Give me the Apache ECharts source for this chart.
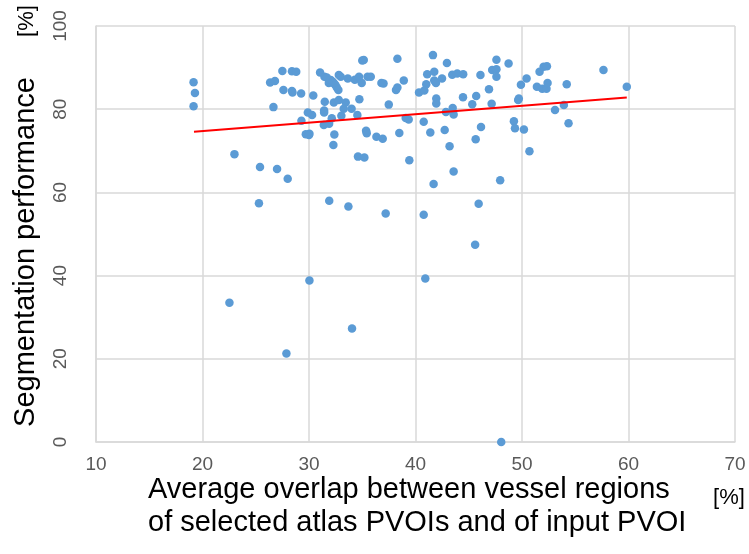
<!DOCTYPE html>
<html>
<head>
<meta charset="utf-8">
<script src="https://cdn.jsdelivr.net/npm/echarts@6/dist/echarts.min.js"></script>
<style>html,body{margin:0;padding:0;background:#fff;}#c{width:749px;height:554px;}</style>
</head>
<body>
<div id="c"></div>
<script>
// Average overlap [%]
const overlapX = [19.16,19.29,19.16,23.0,25.4,27.0,28.0,25.3,31.9,33.7,
26.35,26.8,26.66,27.5,28.4,28.8,27.6,28.4,28.45,29.26,
30.4,31.04,31.45,31.67,31.86,32.04,32.23,32.36,32.48,32.61,
32.76,32.8,32.98,33.64,34.3,34.7,35.0,35.14,34.95,35.5,
35.8,36.8,37.0,31.48,32.33,32.8,33.45,33.26,34.0,34.73,
31.42,31.42,33.04,34.54,29.89,30.29,29.29,32.14,31.39,31.89,
29.7,30.04,30.0,32.38,32.29,34.6,35.2,35.36,35.42,36.33,
38.3,38.9,38.17,38.3,37.49,39.08,39.36,36.92,38.48,39.42,
41.64,42.95,41.1,41.76,41.01,41.76,41.92,40.33,40.83,42.49,
43.45,43.92,44.48,46.1,47.6,47.2,47.6,47.6,48.74,41.95,
41.95,44.46,45.7,45.33,46.9,47.15,42.86,43.49,43.58,40.77,
41.39,42.74,46.15,45.65,43.2,43.58,41.7,47.95,45.93,49.9,
50.43,51.4,51.65,52.03,52.34,51.9,52.3,52.4,54.2,49.64,
49.7,53.1,53.93,54.37,49.24,49.34,50.18,50.7,57.65,59.84,
30.04,22.53,34.04,27.88,37.2,40.77,45.6,40.92,48.05];
// Segmentation performance [%]
const performanceY = [86.5,83.9,80.7,69.2,66.1,65.6,63.3,57.4,58.0,56.6,
86.4,86.8,80.5,89.2,89.1,89.0,84.6,84.4,84.0,83.8,
83.3,88.8,87.8,87.6,86.3,87.0,86.6,86.2,85.8,85.2,
84.6,88.2,87.8,87.4,87.1,87.8,91.7,91.8,86.3,87.8,
87.8,86.3,86.2,81.8,81.6,82.2,81.6,80.1,80.1,82.4,
79.7,79.2,78.4,78.6,79.2,78.6,77.2,77.8,76.2,76.5,
74.0,74.1,73.8,73.9,71.4,68.6,68.4,74.8,74.2,73.4,
92.1,86.9,84.6,85.2,81.1,77.9,77.5,72.9,74.3,67.7,
93.0,91.1,88.4,89.0,86.0,86.9,86.3,84.0,84.5,87.4,
88.3,88.6,88.4,88.2,91.9,89.4,89.6,87.8,91.0,82.6,
81.4,82.9,83.2,81.2,84.8,81.3,79.3,80.3,78.7,77.0,
74.4,75.0,75.7,72.8,71.1,65.0,62.0,62.9,57.3,85.9,
87.4,85.4,89.0,90.2,90.3,84.9,84.9,86.3,86.0,82.2,
82.6,79.8,81.0,76.6,77.1,75.4,75.1,69.9,89.4,85.4,
38.8,33.5,27.3,21.3,54.9,54.6,47.4,39.3,0.0];
// Linear trend line end points
const trendX = [19.2, 59.84];
const trendY = [74.6, 82.8];
// Axis ticks
const xTicks = [10,20,30,40,50,60,70];
const yTicks = [0,20,40,60,80,100];

const pts = overlapX.map((x,i)=>[x, performanceY[i]]);
const trend = trendX.map((x,i)=>[x, trendY[i]]);

const chart = echarts.init(document.getElementById('c'), null, {renderer:'canvas'});
const gridCol = '#d9d9d9';
const labelFont = "'Liberation Sans', Arial, sans-serif";
chart.setOption({
  animation:false,
  backgroundColor:'#fff',
  grid:{left:96, right:14, top:26, bottom:112, containLabel:false},
  xAxis:{
    type:'value', min:xTicks[0], max:xTicks[xTicks.length-1], interval:10,
    axisLine:{show:true, lineStyle:{color:gridCol, width:1.5}},
    axisTick:{show:false},
    splitLine:{show:true, lineStyle:{color:gridCol, width:1.5}},
    axisLabel:{margin:13, fontSize:19, color:'#595959', fontFamily:labelFont}
  },
  yAxis:{
    type:'value', min:yTicks[0], max:yTicks[yTicks.length-1], interval:20,
    axisLine:{show:true, lineStyle:{color:gridCol, width:1.5}},
    axisTick:{show:false},
    splitLine:{show:true, lineStyle:{color:gridCol, width:1.5}},
    axisLabel:{rotate:90, margin:26, fontSize:19, color:'#595959', fontFamily:labelFont}
  },
  series:[
    {type:'scatter', data:pts, symbolSize:8.5,
     itemStyle:{color:'#5b9bd5', opacity:1}, z:3},
    {type:'line', data:trend, symbol:'none',
     lineStyle:{color:'#ff0000', width:2}, z:4}
  ],
  graphic:[
    {type:'text', x:26, y:252, rotation:Math.PI/2,
     style:{text:'Segmentation performance', font:"29px 'Liberation Sans', Arial, sans-serif", fill:'#000', align:'center', verticalAlign:'middle'}},
    {type:'text', x:27, y:21, rotation:Math.PI/2,
     style:{text:'[%]', font:"22px 'Liberation Sans', Arial, sans-serif", fill:'#000', align:'center', verticalAlign:'middle'}},
    {type:'text', x:148, y:490,
     style:{text:'Average overlap between vessel regions', font:"29px 'Liberation Sans', Arial, sans-serif", fill:'#000', align:'left', verticalAlign:'middle'}},
    {type:'text', x:148, y:523,
     style:{text:'of selected atlas PVOIs and of input PVOI', font:"29px 'Liberation Sans', Arial, sans-serif", fill:'#000', align:'left', verticalAlign:'middle'}},
    {type:'text', x:729, y:498,
     style:{text:'[%]', font:"22px 'Liberation Sans', Arial, sans-serif", fill:'#000', align:'center', verticalAlign:'middle'}}
  ]
});
</script>
</body>
</html>
